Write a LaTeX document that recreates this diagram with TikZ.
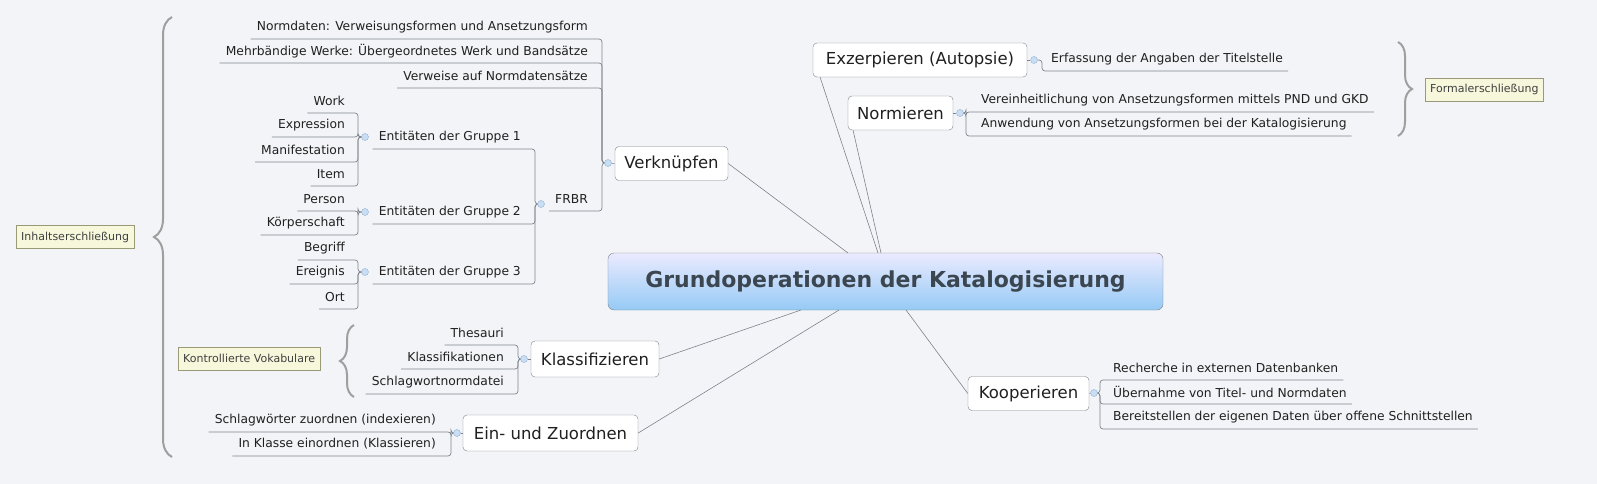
\documentclass[tikz,border=0pt]{standalone}
\usepackage{fontspec}
\setmainfont{DejaVu Sans}
\usetikzlibrary{calc,decorations.pathreplacing}
\definecolor{bg}{HTML}{F3F4F7}
\definecolor{ln}{HTML}{7E848C}
\definecolor{circ}{HTML}{C9DDF3}
\definecolor{circd}{HTML}{8FB0D6}
\definecolor{txt}{HTML}{202020}
\definecolor{ctxt}{HTML}{3C4650}
\definecolor{lab}{HTML}{F7F7DC}
\definecolor{labd}{HTML}{9A9A78}
\tikzset{
 leaf/.style={inner sep=0pt,font=\fontsize{12.3}{14}\selectfont,text=txt},
 conn/.style={draw=ln,line width=0.7pt,rounded corners=3pt},
 topic/.style={draw=ln,fill=white,rounded corners=4pt,minimum height=34pt,inner xsep=6pt,font=\fontsize{16.5}{19}\selectfont,text=txt},
 labelbox/.style={draw=labd,fill=lab,inner xsep=5pt,minimum height=23pt,font=\fontsize{11}{13}\selectfont,text=black!75},
 bracestyle/.style={draw=gray!75,line width=2pt,decorate,decoration={brace,amplitude=14pt}},
 coll/.style={circle,draw=circd,fill=circ,inner sep=0pt,minimum size=7pt}
}
\newcommand\lchild[6]{%
 \node[leaf,anchor=east] (#1) at (#2,#3) {#6};
 \draw[conn] ($(#1.west)+(-6,12)$) -- (#4,#3+12) -- (#4,#5) -- (#4+4,#5);}
\newcommand\rchild[6]{%
 \node[leaf,anchor=west] (#1) at (#2,#3) {#6};
 \draw[conn] ($(#1.east)+(5,12)$) -- (#4,#3+12) -- (#4,#5) -- (#4-4,#5);}
\begin{document}
\begin{tikzpicture}[x=1pt,y=-1pt]
\fill[bg] (0,0) rectangle (1597,484);
\useasboundingbox (0,0) rectangle (1597,484);
% center
\node[draw=ln,rounded corners=6pt,top color=blue!8!white,bottom color={rgb,255:red,150;green,202;blue,245},minimum width=555pt,minimum height=57pt,font=\bfseries\fontsize{22}{26}\selectfont,text=ctxt] (c) at (885.5,281.5) {Grundoperationen der Katalogisierung};
% topics
\node[topic,minimum width=113pt] (v) at (671.5,163.5) {Verknüpfen};
\node[topic,minimum width=214pt] (ex) at (920,60) {Exzerpieren (Autopsie)};
\node[topic,minimum width=105pt] (no) at (900.5,113) {Normieren};
\node[topic,minimum width=128pt,minimum height=36pt] (kl) at (595,359) {Klassifizieren};
\node[topic,minimum width=175pt,minimum height=36pt] (ez) at (550.5,433) {Ein- und Zuordnen};
\node[topic,minimum width=121pt] (ko) at (1028.5,393.5) {Kooperieren};
% connections to center
\draw[ln,line width=0.6pt] (v.east) -- (848,253);
\draw[ln,line width=0.6pt] (820,77) -- (878,253);
\draw[ln,line width=0.6pt] (853,130) -- (881,253);
\draw[ln,line width=0.6pt] (kl.east) -- (801,310);
\draw[ln,line width=0.6pt] (ez.east) -- (839,310);
\draw[ln,line width=0.6pt] (ko.west) -- (906,310);
% Verknuepfen children
\lchild{n1}{588}{27}{602}{163}{Normdaten: Verweisungsformen und Ansetzungsform}
\lchild{n2}{588}{51}{602}{163}{Mehrbändige Werke: Übergeordnetes Werk und Bandsätze}
\lchild{n3}{588}{76}{602}{163}{Verweise auf Normdatensätze}
\lchild{frbr}{588}{199}{602}{163}{FRBR}
\node[coll] (cv) at (608,163) {};
\draw[ln] (cv) -- (v.west);
% FRBR children
\lchild{g1}{521}{137}{535}{204}{Entitäten der Gruppe 1}
\lchild{g2}{521}{212}{535}{204}{Entitäten der Gruppe 2}
\lchild{g3}{521}{272}{535}{204}{Entitäten der Gruppe 3}
\node[coll] (cf) at (541,204) {};
% Gruppe 1
\lchild{w1}{345}{101}{358}{137}{Work}
\lchild{w2}{345}{125}{358}{137}{Expression}
\lchild{w3}{345}{150}{358}{137}{Manifestation}
\lchild{w4}{345}{174}{358}{137}{Item}
\node[coll] (cg1) at (365,137) {};
\lchild{p1}{345}{199}{358}{212}{Person}
\lchild{p2}{345}{223}{358}{212}{Körperschaft}
\node[coll] (cg2) at (365,212) {};
\lchild{b1}{345}{248}{358}{272}{Begriff}
\lchild{b2}{345}{272}{358}{272}{Ereignis}
\lchild{b3}{345}{297}{358}{272}{Ort}
\node[coll] (cg3) at (365,272) {};
% Klassifizieren
\lchild{k1}{504}{333}{518}{359}{Thesauri}
\lchild{k2}{504}{357}{518}{359}{Klassifikationen}
\lchild{k3}{504}{382}{518}{359}{Schlagwortnormdatei}
\node[coll] (ck) at (524,359) {};
\draw[ln] (ck) -- (kl.west);
% Ein- und Zuordnen
\lchild{e1}{436}{420}{451}{433}{Schlagwörter zuordnen (indexieren)}
\lchild{e2}{436}{444}{451}{433}{In Klasse einordnen (Klassieren)}
\node[coll] (ce) at (457,433) {};
\draw[ln] (ce) -- (ez.west);
% Exzerpieren
\rchild{x1}{1051}{59}{1042}{60}{Erfassung der Angaben der Titelstelle}
\node[coll] (cx) at (1034,60) {};
\draw[ln] (ex.east) -- (cx);
% Normieren
\rchild{m1}{981}{100}{966}{113}{Vereinheitlichung von Ansetzungsformen mittels PND und GKD}
\rchild{m2}{981}{124}{966}{113}{Anwendung von Ansetzungsformen bei der Katalogisierung}
\node[coll] (cn) at (960,113) {};
\draw[ln] (no.east) -- (cn);
% Kooperieren
\rchild{o1}{1113}{368}{1100}{393}{Recherche in externen Datenbanken}
\rchild{o2}{1113}{392}{1100}{393}{Übernahme von Titel- und Normdaten}
\rchild{o3}{1113}{417}{1100}{393}{Bereitstellen der eigenen Daten über offene Schnittstellen}
\node[coll] (co) at (1094,393) {};
\draw[ln] (ko.east) -- (co);
% braces and labels
\coordinate (fb1) at (1398,42); \coordinate (fb2) at (1398,136);
\draw[bracestyle] (fb1) -- (fb2);
\node[labelbox,anchor=west] (fl) at (1425,89.5) {Formalerschließung};
\coordinate (ib1) at (172,457); \coordinate (ib2) at (172,17);
\draw[bracestyle,decoration={brace,amplitude=18pt}] (ib1) -- (ib2);
\node[labelbox,anchor=west] (il) at (16,237) {Inhaltserschließung};
\coordinate (kb1) at (354,397); \coordinate (kb2) at (354,325);
\draw[bracestyle] (kb1) -- (kb2);
\node[labelbox,anchor=west] (kv) at (178,358.5) {Kontrollierte Vokabulare};
\end{tikzpicture}
\end{document}
